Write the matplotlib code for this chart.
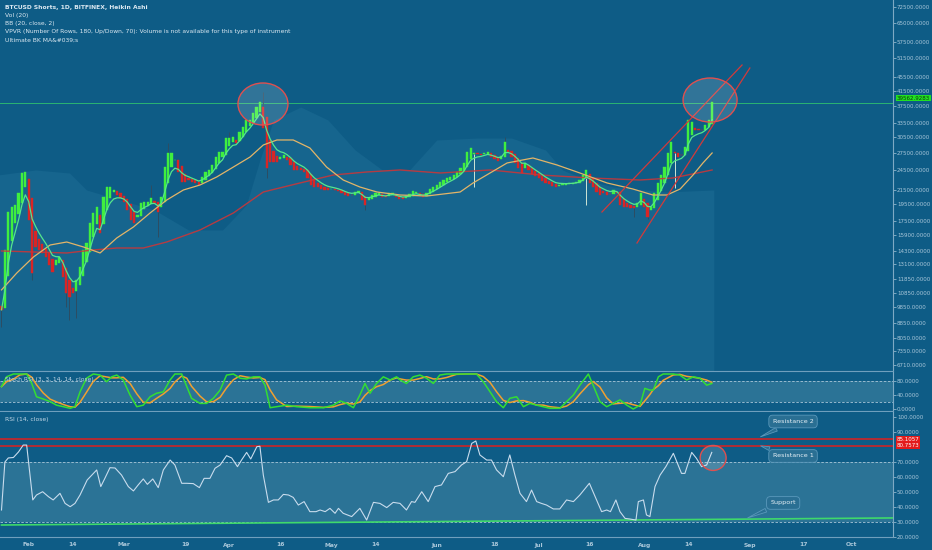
import numpy as np
import pandas as pd
import matplotlib
matplotlib.use("Agg")
import matplotlib.pyplot as plt
import matplotlib.ticker as mticker
from matplotlib.patches import Ellipse, Rectangle
from matplotlib.transforms import blended_transform_factory

# ---- data ----
start_date = pd.Timestamp("2018-01-24")

# Heikin Ashi closes, one per day
closes = [
    9675, 14410, 18550, 19175, 19430, 21050, 24045, 24205, 17590, 12365,
    14700, 14410, 14125, 13755, 13045, 12450, 13485, 13755, 12040, 10830,
    10550, 10830, 11805, 12870, 14410, 15095, 17245, 18430, 19175, 16135,
    20500, 21905, 21905, 21475, 20770, 20360, 19825, 18800, 17590, 17245,
    18185, 19695, 19825, 19825, 20360, 19695, 18550, 20500, 25020, 27465,
    27465, 26215, 24205, 22645, 22645, 22950, 22645, 22500, 22200, 23415,
    24205, 24530, 25355, 26740, 27645, 27645, 30340, 30340, 30500, 29355,
    31580, 32650, 34205, 34205, 35835, 37285, 38545, 32435, 24855, 25870,
    25870, 25870, 26740, 27100, 26215, 25355, 24530,
    24530, 24530, 24205, 23260, 22200, 21905, 21905, 21615, 21475, 21475,
    21615, 21475, 21335, 21050, 20770, 20635, 20770, 21190, 21335, 20090,
    19430, 20360, 20770, 21050, 21050, 20500, 20500, 21050, 21050, 20500,
    20225, 20225, 20635, 20910, 21335, 21190, 20635, 20500, 21050, 21615,
    21905, 22200, 22645, 22950, 23260, 23415, 23730, 24205, 24855, 25700,
    27645, 28395, 27465, 27280, 27100, 27465, 27645, 26740, 26390, 26040,
    26920, 29550, 27645, 26740, 25700, 24855, 24045, 25700, 24530, 23890,
    23570, 23260, 22800, 22500, 22350, 22050, 21905,
    22200, 22350, 22350, 22500, 22500, 22645, 22950, 23730, 24530, 22500,
    21905, 21190, 20770, 21050, 20770, 20910, 21475, 21050, 19430, 19175,
    19175, 19050, 19050, 19695, 21050, 19175, 17945, 19175, 21050, 22500,
    23730, 25020, 27465, 29550, 27465, 26740, 27100, 28585, 34205, 33755,
    32000, 32000, 32000, 33085, 34205, 38545,
]
first_open = 9900
wick_low = {0: 8635, 9: 11805, 19: 9870, 20: 9055, 22: 9180, 46: 15700,
            78: 23260, 107: 18800, 139: 21905, 172: 19430, 186: 17945,
            190: 17760, 198: 21760}
wick_high = {44: 22200, 49: 29355, 67: 31580, 77: 41200, 148: 30550, 209: 39060}
pale_wicks = [139, 172, 198]

yellow_days = [0, 4.5, 9.4, 14.3, 19.2, 24.1, 29, 33.9, 38.8, 43.7, 48.6, 53.5,
               58.4, 63.3, 68.2, 73.1, 77, 81, 85.8, 90.7, 95.6, 100.5, 105.4,
               110.4, 117.2, 125.1, 134.9, 138.7, 148.7, 156.3, 163.4, 170.1,
               178.1, 185.7, 191.6, 195.7, 199.6, 203.4, 206.3, 209]
yellow_vals = [11050, 12365, 13755, 14895, 15195, 14700, 14125, 15605, 16790,
               18430, 20090, 21475, 22200, 23415, 25020, 26740, 28965, 29945,
               29945, 28395, 25020, 22950, 21905, 21190, 20770, 20635, 21190,
               22500, 25700, 26565, 25355, 24045, 22500, 21615, 20770, 20770,
               21615, 23730, 25700, 27465]

red_ma_days = [0, 9.4, 19.2, 27, 33.9, 41.7, 48.6, 58.4, 68.2, 77, 87.8, 97.6,
               107.4, 117.2, 129, 143.7, 158.4, 173.1, 187.8, 197.5, 209]
red_ma_vals = [14315, 14220, 14125, 14410, 14600, 14600, 15195, 16460, 18430,
               21190, 22500, 23730, 24205, 24530, 24045, 24530, 23730, 23260,
               22950, 23260, 24530]

cloud_days = [-1, 10, 20, 25, 35, 45, 55, 65, 72, 76, 80, 88, 96, 104, 112, 120,
              128, 140, 150, 160, 165, 172, 180, 195, 209.5]
cloud_vals = [23730, 24530, 24045, 21475, 20090, 18800, 16460, 16460, 19430,
              26215, 34205, 37285, 34205, 28015, 24530, 24530, 29945, 30340,
              30340, 28015, 24530, 22950, 21905, 21190, 21475]

price_ticks = [72500, 65000, 57500, 51500, 45500, 41500, 37500, 33500, 30500,
               27500, 24500, 21500, 19500, 17500, 15900, 14300, 13100, 11850,
               10850, 9850, 8850, 8050, 7350, 6710]
last_price = 39562.9283
level_line = 38300

channel_a = ([176.6, 217.8], [18550, 49300])
channel_b = ([186.9, 220.1], [15095, 48330])

stoch_days = [0, 1.5, 3.5, 5.4, 7.4, 8.9, 10.3, 12.3, 14.3, 16.2, 18.2, 20.2,
              21.6, 23.1, 25.0, 27.0, 29.0, 30.9, 32.4, 33.9, 35.8, 37.8, 39.8,
              41.7, 43.7, 45.6, 47.6, 49.6, 51.0, 53.0, 54.5, 55.9, 58.4, 60.3,
              62.3, 64.3, 66.2, 68.2, 70.2, 72.1, 74.1, 76.0, 77.5, 79.0, 80.9,
              83.9, 86.8, 90.7, 94.7, 97.6, 99.6, 101.5, 103.5, 105.4, 106.9,
              108.4, 110.3, 112.3, 114.3, 116.2, 117.2, 119.1, 121.1, 123.1,
              125.0, 127.0, 128.9, 130.9, 133.8, 136.8, 139.7, 141.7, 143.7,
              145.6, 147.6, 149.5, 151.5, 153.5, 155.4, 157.4, 159.3, 161.3,
              164.2, 166.2, 168.2, 170.1, 172.6, 174.0, 176.0, 178.0, 179.9,
              181.9, 183.9, 185.8, 187.8, 189.2, 190.7, 191.7, 193.2, 194.6,
              197.6, 199.5, 201.5, 203.5, 205.4, 207.4, 208.9]
stoch_vals = [64, 92, 100, 100, 100, 73, 35, 28.6, 21, 11, 6.6, 2,
              6.6, 49, 88, 100, 97, 78, 92, 97, 83, 40, 6.6,
              11, 35, 45, 49, 83, 100, 100, 64, 30.6, 16, 16,
              30.6, 54, 97, 100, 88, 86, 92, 92, 68, 3.7, 6.6,
              11, 6.6, 3.7, 3.7, 11, 23, 16, 3.7, 40, 73,
              45, 73, 92, 83, 92, 83, 73, 92, 97,
              88, 73, 97, 100, 100, 100, 100, 78, 49,
              21, 3.7, 30.6, 35, 6.6, 16, 11, 6.6, 2,
              2, 21, 40, 68, 100, 68, 21, 6.6, 16,
              26, 11, 0, 11, 59, 54, 54, 92, 100,
              100, 97, 83, 92, 88, 68, 73]

rsi_days = [0, 1.0, 2.0, 3.5, 5.0, 6.4, 7.4, 8.4, 9.2, 10.3, 12.1, 13.8, 15.2,
            17.2, 18.7, 20.2, 21.6, 23.1, 25.2, 28.0, 29.2, 30.4, 31.9, 33.4,
            35.3, 37.3, 38.8, 40.2, 41.7, 42.9, 44.5, 46.1, 47.6, 49.6, 51.0,
            53.0, 54.5, 56.4, 58.2, 59.6, 61.3, 62.8, 64.3, 66.2, 67.7, 69.4,
            70.6, 72.1, 73.3, 75.1, 76.0, 77.0, 78.5, 80.0, 81.4, 82.9, 84.4,
            85.8, 87.3, 89.0, 90.7, 92.5, 93.7, 95.2, 96.6, 98.1, 99.1, 100.5,
            103.0, 105.4, 107.4, 109.4, 111.3, 113.3, 115.2, 117.2, 119.1,
            120.6, 121.6, 123.6, 125.5, 127.5, 129.4, 131.4, 133.4, 135.3,
            136.8, 138.3, 139.5, 140.7, 142.7, 144.1, 145.6, 147.6, 149.5,
            151.0, 152.5, 154.4, 155.9, 157.4, 158.8, 160.3, 162.3, 164.2,
            166.2, 168.2, 170.1, 172.9, 175.0, 176.5, 178.0, 179.1, 180.7,
            181.9, 183.4, 184.8, 186.6, 187.3, 188.8, 189.7, 190.7, 192.2,
            193.7, 195.4, 197.6, 199.0, 200.0, 201.0, 203.0, 204.4, 205.9,
            207.4, 208.9]
rsi_vals = [38, 70, 72.7, 73, 76.7, 81.3, 81.3, 61.3, 44.7, 48, 50.2, 46.9, 44.7,
            49.1, 42.4, 40.2, 42.4, 48, 58, 64.7, 53.6, 59.1, 66.2, 66,
            61.3, 53.6, 50.7, 54.7, 58.7, 55.1, 58.7, 52.9, 64.7, 71.3, 68,
            55.8, 55.8, 55.6, 52.9, 59.1, 59.1, 65.8, 68, 74.2, 72.7, 66.9,
            71.3, 76.4, 72, 80.2, 80.5, 61.3, 43.1, 44.7, 44.7, 48.4, 48,
            46.4, 41.3, 43.6, 36.9, 36.9, 38, 36.9, 39.1, 35.8, 39.1, 35.8,
            33.6, 39.1, 31.3, 43.1, 42.4, 39.6, 43.1, 42.4, 38,
            43.6, 43.1, 50.2, 43.6, 53.6, 54.7, 62.4, 63.6, 68,
            70.2, 82.4, 84, 74.7, 71.3, 71.3, 64.7, 60.2, 74.7,
            61.3, 49.1, 43.6, 51.3, 43.6, 42.4, 41.3, 38.7, 38.7,
            44.7, 43.6, 48, 55.8, 44.7, 36.9, 38, 36.9, 44.7,
            36.9, 32.4, 32, 31.3, 43.6, 44.7, 34.7, 33.6, 53.6,
            61.3, 66.9, 75.8, 68, 62.4, 62.4, 76.4, 72.4, 66.9,
            68, 76.4]
support_days = [0, 262]
support_vals = [28.0, 32.7]
resistance_levels = [85.1057, 80.7573]

time_ticks = ["2018-02-01", "2018-02-14", "2018-03-01", "2018-03-19", "2018-04-01",
              "2018-04-16", "2018-05-01", "2018-05-14", "2018-06-01", "2018-06-18",
              "2018-07-01", "2018-07-16", "2018-08-01", "2018-08-14", "2018-09-01",
              "2018-09-17", "2018-10-01"]
time_labels = ["Feb", "14", "Mar", "19", "Apr", "16", "May", "14", "Jun", "18",
               "Jul", "16", "Aug", "14", "Sep", "17", "Oct"]

legend_lines = ["BTCUSD Shorts, 1D, BITFINEX, Heikin Ashi",
                "Vol (20)",
                "BB (20, close, 2)",
                "VPVR (Number Of Rows, 180, Up/Down, 70): Volume is not available for this type of instrument",
                "Ultimate BK MA&#039;s"]

# ---- styling ----
BG = "#0e5c86"
LIGHT = "#16658e"
BAND = "#2b7396"
AXIS_TXT = "#a9c7da"
LINE = "#6f9fbd"
GREEN = "#3fef3f"
RED = "#d92525"

W, H = 932, 550


def box(x0, y0, x1, y1):
    return [x0 / W, 1 - y1 / H, (x1 - x0) / W, (y1 - y0) / H]


fig = plt.figure(figsize=(W / 100, H / 100), dpi=100, facecolor=BG)
ax = fig.add_axes(box(0, 0, 893, 370))
ax_st = fig.add_axes(box(0, 371, 893, 411))
ax_rsi = fig.add_axes(box(0, 412, 893, 537))

XLIM = (-0.44, 262.2)
for a in (ax, ax_st, ax_rsi):
    a.set_facecolor(BG)
    a.set_xlim(*XLIM)
    for s in a.spines.values():
        s.set_visible(False)
    a.spines["right"].set_visible(True)
    a.spines["right"].set_color("#7ea9c4")
    a.spines["right"].set_linewidth(0.8)
    a.yaxis.tick_right()
    a.set_xticks([])
    a.tick_params(axis="y", colors=AXIS_TXT, labelsize=4, length=2, width=0.5, pad=0.8)

# ---- main price panel ----
ax.set_yscale("log")
ax.set_ylim(6487, 75960)
ax.yaxis.set_minor_locator(mticker.NullLocator())
ax.set_yticks(price_ticks, labels=[f"{v:.4f}" for v in price_ticks])

ax.fill_between(cloud_days, cloud_vals, 5000, color=LIGHT, lw=0, zorder=0)

c = np.array(closes, dtype=float)
n = len(c)
o = np.empty(n)
o[0] = first_open
for i in range(1, n):
    o[i] = (o[i - 1] + c[i - 1]) / 2
days = np.arange(n)
lo = np.minimum(o, c)
hi = np.maximum(o, c)
up = c >= o

for i, v in wick_low.items():
    col = "#cfe6d6" if i in pale_wicks else "#2d4d62"
    ax.vlines(i, v, lo[i], color=col, lw=0.7, zorder=3)
for i, v in wick_high.items():
    ax.vlines(i, hi[i], v, color="#2d4d62", lw=0.7, zorder=3)

ax.bar(days[up], (hi - lo)[up], bottom=lo[up], width=0.66, color=GREEN,
       edgecolor=GREEN, linewidth=0.3, zorder=4)
ax.bar(days[~up], (hi - lo)[~up], bottom=lo[~up], width=0.66, color=RED,
       edgecolor=RED, linewidth=0.3, zorder=4)

green_ma = pd.Series(c).ewm(span=6, adjust=False).mean()
ax.plot(red_ma_days, red_ma_vals, color="#c8373a", lw=1.0, alpha=0.9, zorder=5)
ax.plot(yellow_days, yellow_vals, color="#e3b568", lw=0.9, zorder=5)
ax.plot(days, green_ma, color="#55e68c", lw=0.9, zorder=5)

ax.axhline(level_line, color="#2fc46e", lw=0.7, alpha=0.85, zorder=2)
ax.plot(*channel_a, color="#d23a3a", lw=0.9, zorder=6)
ax.plot(*channel_b, color="#d23a3a", lw=0.9, zorder=6)


def ring(axis, day, val, w_px, h_px):
    cx, cy = axis.transAxes.inverted().transform(axis.transData.transform((day, val)))
    e = Ellipse((cx, cy), w_px / axis.bbox.width, h_px / axis.bbox.height,
                transform=axis.transAxes, facecolor=(1, 1, 1, 0.15),
                edgecolor="#e0504f", lw=1.0, zorder=7)
    axis.add_patch(e)


ring(ax, 76.9, 38040, 50, 42)
ring(ax, 208.4, 39060, 54, 44)

yt = blended_transform_factory(ax.transAxes, ax.transData)
ax.text(1.004, last_price, f"{last_price:.4f}", transform=yt, fontsize=4,
        color="#0b3d0b", va="center", ha="left",
        bbox=dict(boxstyle="square,pad=0.15", fc="#22e022", ec="none"))

# ---- stochastic RSI ----
ax_st.set_ylim(-5.7, 108.6)
ax_st.axhspan(20, 80, color=BAND, lw=0, zorder=0)
for lvl in (20, 80):
    ax_st.axhline(lvl, color="#a9c6d8", lw=0.6, ls=(0, (3, 2)), zorder=1)
ax_st.spines["top"].set_visible(True)
ax_st.spines["bottom"].set_visible(True)
ax_st.spines["top"].set_color(LINE)
ax_st.spines["bottom"].set_color(LINE)
ax_st.set_yticks([0, 40, 80], labels=["0.0000", "40.0000", "80.0000"])
k = np.array(stoch_vals, dtype=float)
d = pd.Series(k).rolling(3, min_periods=1).mean()
ax_st.plot(stoch_days, d, color="#f0a030", lw=1.1, zorder=3)
ax_st.plot(stoch_days, k, color="#33dd33", lw=1.1, zorder=4)

# ---- RSI ----
ax_rsi.set_ylim(20, 103.33)
ax_rsi.axhspan(30, 70, color=BAND, lw=0, zorder=0)
for lvl in (30, 70):
    ax_rsi.axhline(lvl, color="#a9c6d8", lw=0.6, ls=(0, (3, 2)), zorder=1)
ax_rsi.spines["bottom"].set_visible(True)
ax_rsi.spines["bottom"].set_color(LINE)
rsi_ticks = [20, 30, 40, 50, 60, 70, 90, 100]
ax_rsi.set_yticks(rsi_ticks, labels=[f"{v:.4f}" for v in rsi_ticks])
for lvl in resistance_levels:
    ax_rsi.axhline(lvl, color="#c0282d", lw=1.3, zorder=2)
ax_rsi.plot(support_days, support_vals, color="#3fd96b", lw=1.2, zorder=3)
ax_rsi.plot(rsi_days, rsi_vals, color="#c8dced", lw=0.8, zorder=4)
ring(ax_rsi, 209.3, 72.7, 26, 25)

yt2 = blended_transform_factory(ax_rsi.transAxes, ax_rsi.transData)
for lvl in resistance_levels:
    ax_rsi.text(1.004, lvl, f"{lvl:.4f}", transform=yt2, fontsize=4,
                color="white", va="center", ha="left",
                bbox=dict(boxstyle="square,pad=0.15", fc="#e31b1b", ec="none"))

callouts = [("Resistance 2", (222.5, 86.0), (232.8, 97.0)),
            ("Resistance 1", (222.5, 81.3), (232.8, 74.0)),
            ("Support", (218.7, 32.0), (229.9, 42.7))]
for label, tip, pos in callouts:
    ax_rsi.annotate(label, xy=tip, xytext=pos, ha="center", va="center",
                    fontsize=4.6, color="#e6f0f6", zorder=8,
                    bbox=dict(boxstyle="round,pad=0.6", fc="#2a6f93", ec="#5a98bb", lw=0.6),
                    arrowprops=dict(arrowstyle="wedge,tail_width=0.6", fc="#2a6f93",
                                    ec="#5a98bb", lw=0.6),
                    annotation_clip=False)

# ---- time axis strip ----
fig.add_artist(Rectangle((0, 0), 1, 11.5 / H, transform=fig.transFigure,
                         fc=BG, ec="none", zorder=2))
tt = blended_transform_factory(ax_rsi.transData, fig.transFigure)
for t, lab in zip(time_ticks, time_labels):
    x = (pd.Timestamp(t) - start_date).days
    fig.text(x, 1 - 545 / H, lab, transform=tt, fontsize=4.3, color=AXIS_TXT,
             ha="center", va="center", fontweight="bold", zorder=3)

# ---- legends ----
for j, line in enumerate(legend_lines):
    fig.text(5 / W, 1 - (7 + 8.2 * j) / H, line, fontsize=4.3, color="#dce9f2",
             ha="left", va="center", fontweight="bold" if j == 0 else "normal")
fig.text(5 / W, 1 - 380 / H, "Stoch RSI (3, 3, 14, 14, close)", fontsize=4.3,
         color="#c4d8e6", ha="left", va="center", zorder=3)
fig.text(5 / W, 1 - 419 / H, "RSI (14, close)", fontsize=4.3,
         color="#c4d8e6", ha="left", va="center")

fig.savefig("out.png", dpi=100, facecolor=BG)
